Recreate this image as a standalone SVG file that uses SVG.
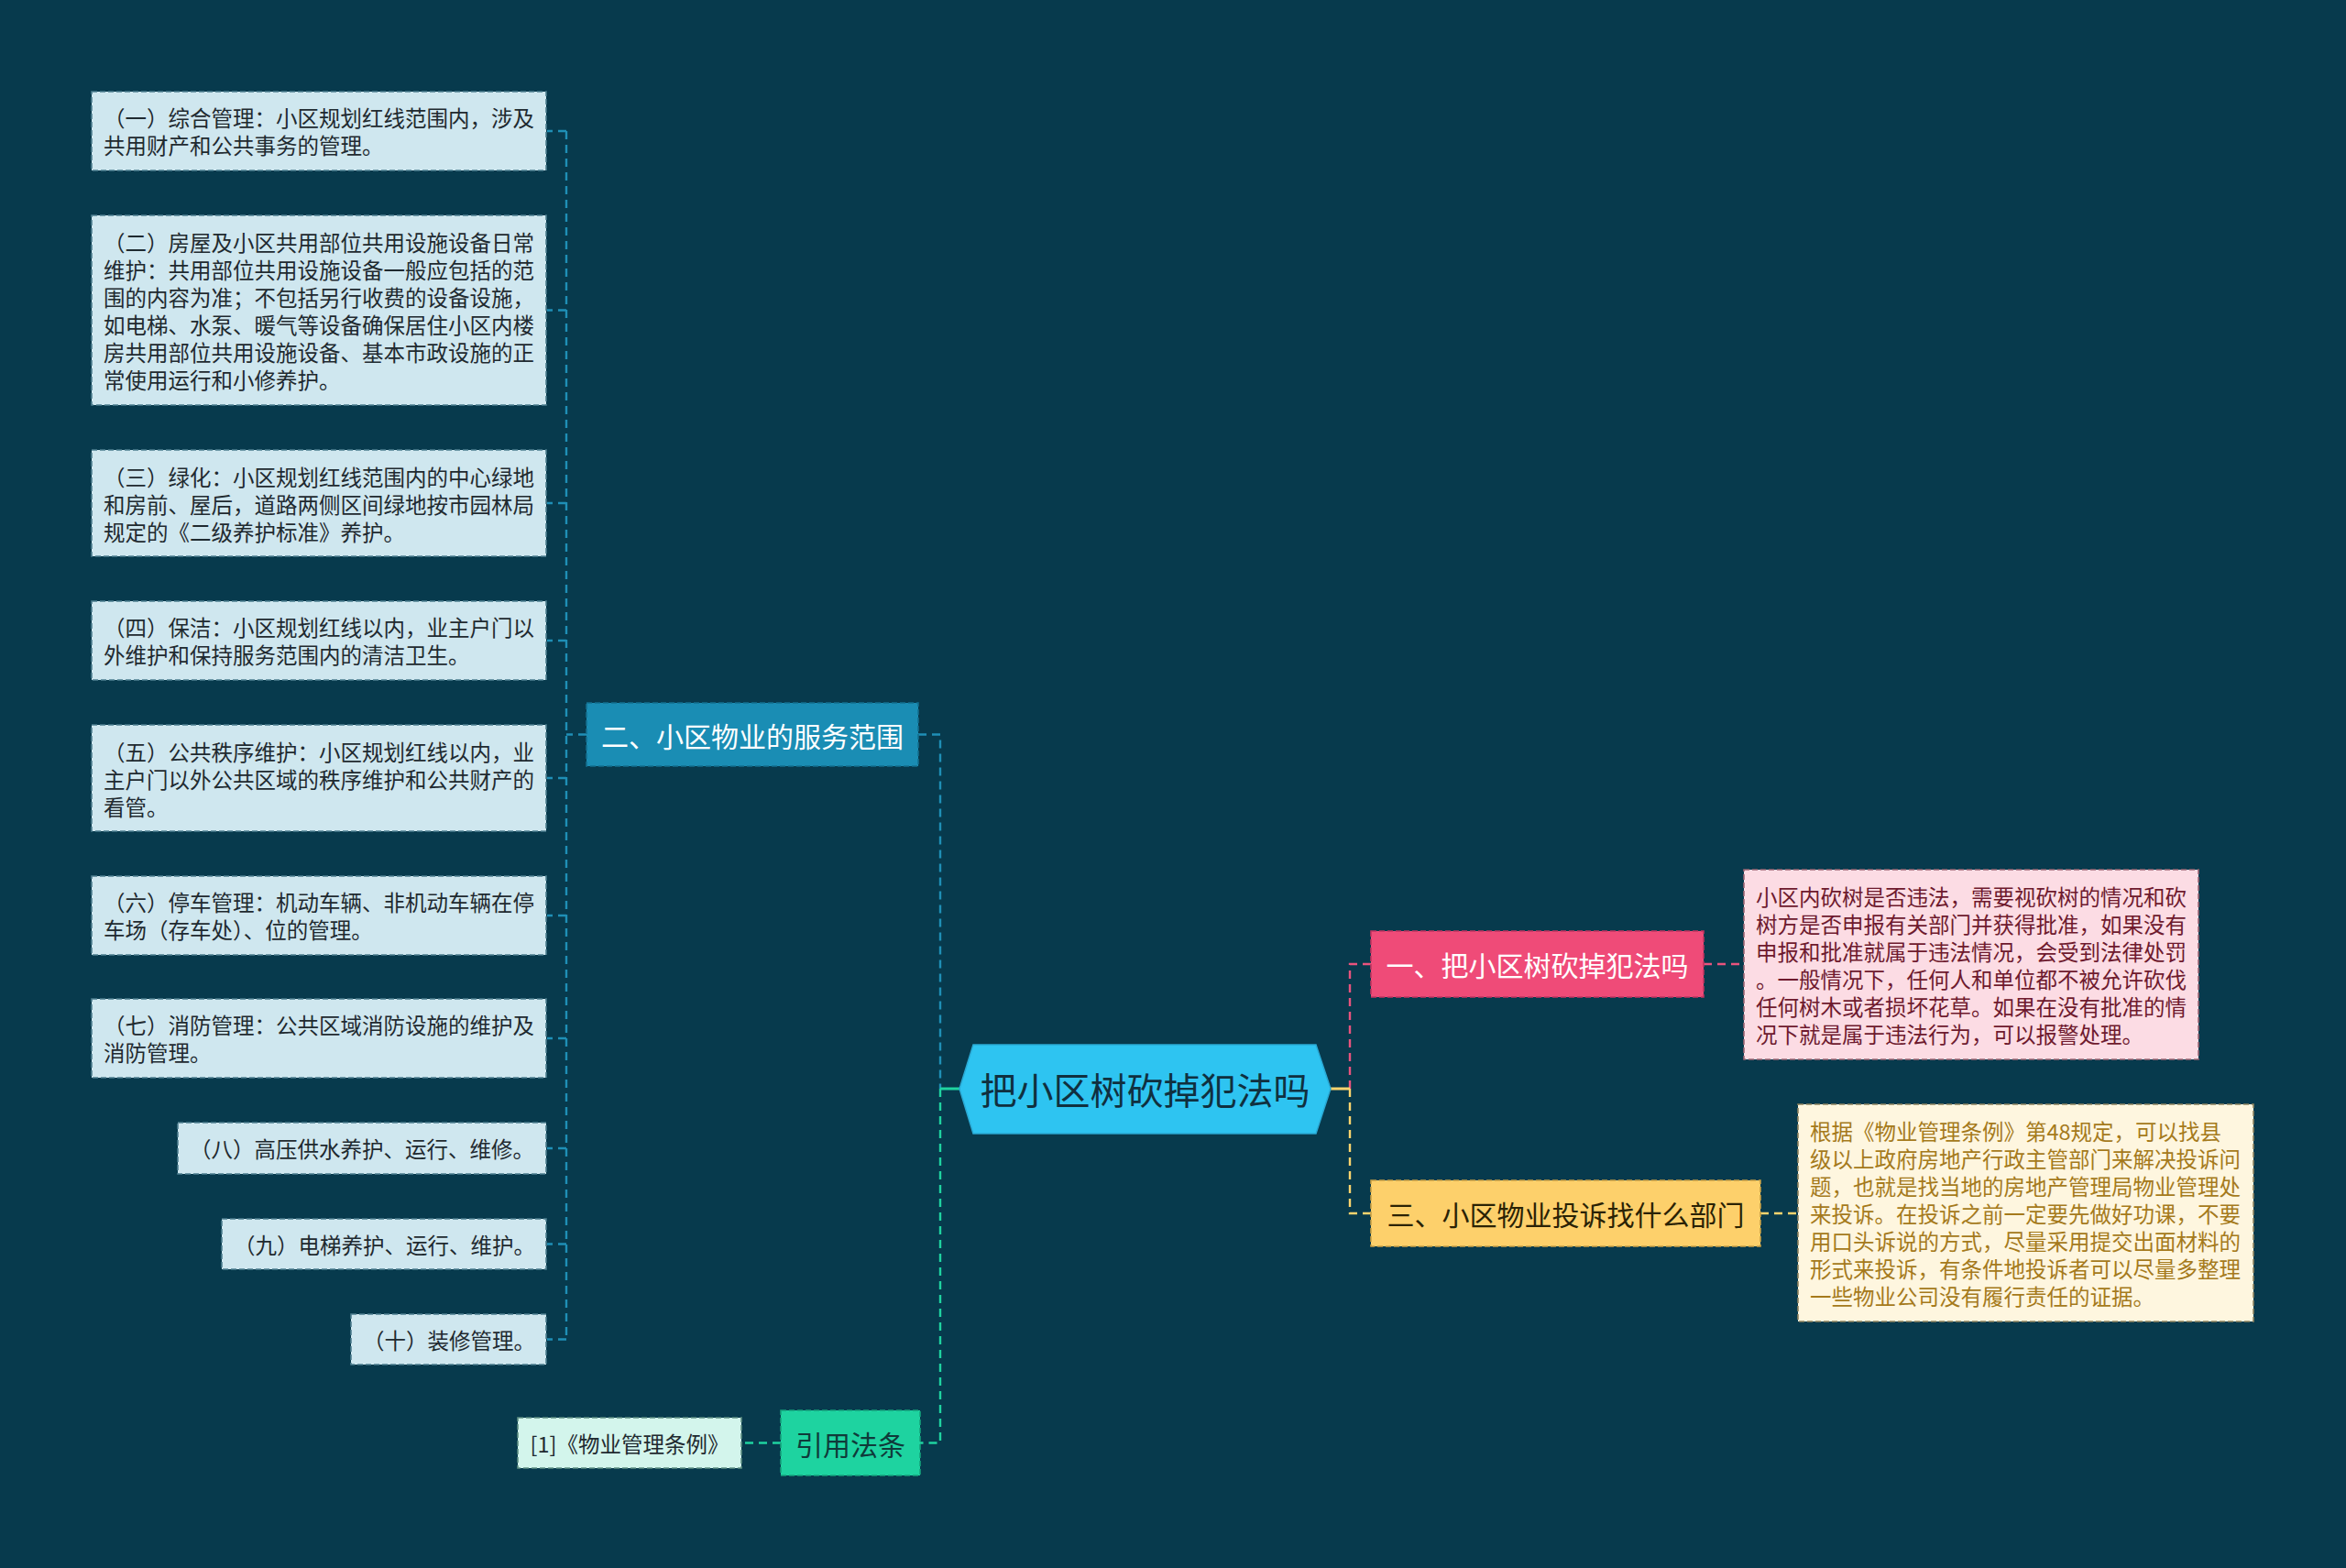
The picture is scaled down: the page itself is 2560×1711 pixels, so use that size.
<svg xmlns="http://www.w3.org/2000/svg" width="2560" height="1711" viewBox="0 0 2560 1711">
<defs>
<style>
text{font-family:"Noto Sans CJK SC","Noto Sans",sans-serif;dominant-baseline:central}
.leaf rect{fill:#cfe7ef;stroke:#4e7f90;stroke-width:1.6;stroke-dasharray:6 3}
.leaf text{font-size:23.5px;fill:#1f2a30}
.c{fill:none;stroke-width:2.4;stroke-dasharray:9 6}
.cs{fill:none;stroke-width:3}
.blue{stroke:#1f8fb6}
.green{stroke:#1fd3a0}
.pink{stroke:#e8537e}
.yellow{stroke:#fcd46e}
.br text{font-size:30px}
</style>
</defs>
<rect x="0" y="0" width="2560" height="1711" fill="#073a4d"/>

<g id="connectors">
<!-- left blue trunk -->
<path class="c blue" d="M640,801.5 H618"/>
<path class="c blue" d="M618,143 V1461"/>
<path class="c blue" d="M618,143 H597"/>
<path class="c blue" d="M618,338.5 H597"/>
<path class="c blue" d="M618,549 H597"/>
<path class="c blue" d="M618,699 H597"/>
<path class="c blue" d="M618,849 H597"/>
<path class="c blue" d="M618,999 H597"/>
<path class="c blue" d="M618,1133 H597"/>
<path class="c blue" d="M618,1253 H597"/>
<path class="c blue" d="M618,1357.5 H597"/>
<path class="c blue" d="M618,1461.5 H597"/>
<!-- root to branch 2 -->
<path class="c blue" d="M1002,801.5 H1026 V1188"/>
<!-- root to citation -->
<path class="c green" d="M1026,1188 V1574.5 H1004"/>
<path class="cs green" d="M1047,1188 H1026"/>
<path class="c green" d="M852,1574.5 H809"/>
<!-- root to branch 1 -->
<path class="c pink" d="M1473,1188 V1052 H1496"/>
<path class="c pink" d="M1859,1052 H1903"/>
<!-- root to branch 3 -->
<path class="c yellow" d="M1473,1188 V1324 H1496"/>
<path class="cs yellow" d="M1452,1188 H1473"/>
<path class="c yellow" d="M1921,1324 H1962"/>
</g>

<g id="root">
<polygon points="1047,1188 1062,1140 1436,1140 1452,1188 1436,1237 1062,1237" fill="#2ec4f1" stroke="#2aa9d4" stroke-width="1.5"/>
<text x="1249.5" y="1188" font-size="40" text-anchor="middle" fill="#10303f">把小区树砍掉犯法吗</text>
</g>

<g id="branch2" class="br">
<rect x="640" y="767" width="362" height="69" fill="#1a8db4" stroke="#136f8f" stroke-width="1.6" stroke-dasharray="6 3"/>
<text x="821" y="801.5" text-anchor="middle" fill="#ffffff">二、小区物业的服务范围</text>
</g>

<g id="leaf1" class="leaf">
<rect x="100" y="100" width="496" height="86"/>
<text x="113" y="128">（一）综合管理：小区规划红线范围内，涉及</text>
<text x="113" y="158">共用财产和公共事务的管理。</text>
</g>
<g id="leaf2" class="leaf">
<rect x="100" y="235" width="496" height="207"/>
<text x="113" y="264">（二）房屋及小区共用部位共用设施设备日常</text>
<text x="113" y="294">维护：共用部位共用设施设备一般应包括的范</text>
<text x="113" y="324">围的内容为准；不包括另行收费的设备设施，</text>
<text x="113" y="354">如电梯、水泵、暖气等设备确保居住小区内楼</text>
<text x="113" y="384">房共用部位共用设施设备、基本市政设施的正</text>
<text x="113" y="414">常使用运行和小修养护。</text>
</g>
<g id="leaf3" class="leaf">
<rect x="100" y="491" width="496" height="116"/>
<text x="113" y="520">（三）绿化：小区规划红线范围内的中心绿地</text>
<text x="113" y="550">和房前、屋后，道路两侧区间绿地按市园林局</text>
<text x="113" y="580">规定的《二级养护标准》养护。</text>
</g>
<g id="leaf4" class="leaf">
<rect x="100" y="656" width="496" height="86"/>
<text x="113" y="684">（四）保洁：小区规划红线以内，业主户门以</text>
<text x="113" y="714">外维护和保持服务范围内的清洁卫生。</text>
</g>
<g id="leaf5" class="leaf">
<rect x="100" y="791" width="496" height="116"/>
<text x="113" y="820">（五）公共秩序维护：小区规划红线以内，业</text>
<text x="113" y="850">主户门以外公共区域的秩序维护和公共财产的</text>
<text x="113" y="880">看管。</text>
</g>
<g id="leaf6" class="leaf">
<rect x="100" y="956" width="496" height="86"/>
<text x="113" y="984">（六）停车管理：机动车辆、非机动车辆在停</text>
<text x="113" y="1014">车场（存车处）、位的管理。</text>
</g>
<g id="leaf7" class="leaf">
<rect x="100" y="1090" width="496" height="86"/>
<text x="113" y="1118">（七）消防管理：公共区域消防设施的维护及</text>
<text x="113" y="1148">消防管理。</text>
</g>
<g id="leaf8" class="leaf">
<rect x="194" y="1225" width="402" height="56"/>
<text x="207" y="1253">（八）高压供水养护、运行、维修。</text>
</g>
<g id="leaf9" class="leaf">
<rect x="242" y="1330" width="354" height="55"/>
<text x="255" y="1357.5">（九）电梯养护、运行、维护。</text>
</g>
<g id="leaf10" class="leaf">
<rect x="383" y="1434" width="213" height="55"/>
<text x="396" y="1461.5">（十）装修管理。</text>
</g>

<g id="branch1" class="br">
<rect x="1496" y="1016" width="363" height="72" fill="#ef4b78" stroke="#c13560" stroke-width="1.6" stroke-dasharray="6 3"/>
<text x="1677.5" y="1052" text-anchor="middle" fill="#ffffff">一、把小区树砍掉犯法吗</text>
</g>
<g id="leaf-b1">
<rect x="1903" y="949" width="496" height="207" fill="#fcdce4" stroke="#9b6573" stroke-width="1.6" stroke-dasharray="6 3"/>
<g font-size="23.5" fill="#6e1a2e">
<text x="1916" y="978">小区内砍树是否违法，需要视砍树的情况和砍</text>
<text x="1916" y="1008">树方是否申报有关部门并获得批准，如果没有</text>
<text x="1916" y="1038">申报和批准就属于违法情况，会受到法律处罚</text>
<text x="1916" y="1068">。一般情况下，任何人和单位都不被允许砍伐</text>
<text x="1916" y="1098">任何树木或者损坏花草。如果在没有批准的情</text>
<text x="1916" y="1128">况下就是属于违法行为，可以报警处理。</text>
</g>
</g>

<g id="branch3" class="br">
<rect x="1496" y="1288" width="425" height="72" fill="#fdd06b" stroke="#c9a045" stroke-width="1.6" stroke-dasharray="6 3"/>
<text x="1708.5" y="1324" text-anchor="middle" fill="#2a2205">三、小区物业投诉找什么部门</text>
</g>
<g id="leaf-b3">
<rect x="1962" y="1205" width="497" height="237" fill="#fef6df" stroke="#8f8460" stroke-width="1.6" stroke-dasharray="6 3"/>
<g font-size="23.5" fill="#a57a1c">
<text x="1975" y="1234">根据《物业管理条例》第48规定，可以找县</text>
<text x="1975" y="1264">级以上政府房地产行政主管部门来解决投诉问</text>
<text x="1975" y="1294">题，也就是找当地的房地产管理局物业管理处</text>
<text x="1975" y="1324">来投诉。在投诉之前一定要先做好功课，不要</text>
<text x="1975" y="1354">用口头诉说的方式，尽量采用提交出面材料的</text>
<text x="1975" y="1384">形式来投诉，有条件地投诉者可以尽量多整理</text>
<text x="1975" y="1414">一些物业公司没有履行责任的证据。</text>
</g>
</g>

<g id="branch4" class="br">
<rect x="852" y="1539" width="152" height="71" fill="#1ed3a0" stroke="#15a47c" stroke-width="1.6" stroke-dasharray="6 3"/>
<text x="928" y="1574.5" text-anchor="middle" fill="#0f3a3a">引用法条</text>
</g>
<g id="leaf-b4">
<rect x="565" y="1547" width="244" height="55" fill="#d3f5ec" stroke="#5e8f83" stroke-width="1.6" stroke-dasharray="6 3"/>
<text x="687" y="1574.5" font-size="23.5" text-anchor="middle" fill="#1f2a30">[1]《物业管理条例》</text>
</g>
</svg>
